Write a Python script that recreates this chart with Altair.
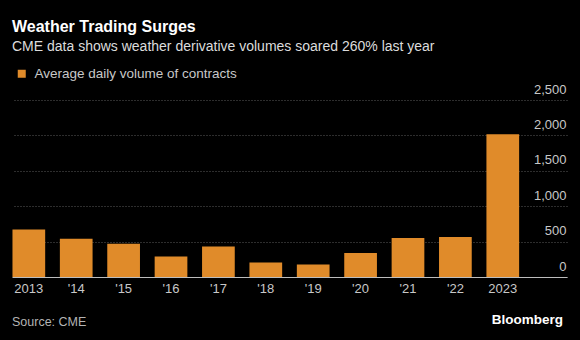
import altair as alt
import pandas as pd

years = ["2013", "'14", "'15", "'16", "'17", "'18", "'19", "'20", "'21", "'22", "2023"]
volumes = [670, 540, 470, 290, 430, 205, 178, 340, 550, 565, 2015]
series_name = "Average daily volume of contracts"
y_ticks = [0, 500, 1000, 1500, 2000, 2500]

title_text = "Weather Trading Surges"
subtitle_text = "CME data shows weather derivative volumes soared 260% last year"
source_text = "Source: CME"
brand_text = "Bloomberg"

ORANGE = "#e08b2a"
FONT = "Liberation Sans"

df = pd.DataFrame({"year": years, "volume": volumes, "series": series_name})

x_domain = years + [""]

bars = alt.Chart(df).mark_bar(color=ORANGE).encode(
    x=alt.X(
        "year:N",
        sort=None,
        scale=alt.Scale(domain=x_domain, paddingInner=0.31, paddingOuter=0.01),
        axis=alt.Axis(
            title=None,
            labelAngle=0,
            labelColor="#c8c8c8",
            labelFontSize=13,
            labelFont=FONT,
            labelPadding=5,
            ticks=False,
            domainColor="#bdbdbd",
            domainWidth=1.2,
            grid=False,
        ),
    ),
    y=alt.Y(
        "volume:Q",
        scale=alt.Scale(domain=[0, 2500], nice=False),
        axis=alt.Axis(
            title=None,
            orient="right",
            values=y_ticks,
            format=",d",
            labelAlign="right",
            labelBaseline="alphabetic",
            labelPadding=-1,
            labelOffset=-7,
            labelColor="#c8c8c8",
            labelFontSize=13,
            labelFont=FONT,
            ticks=False,
            domain=False,
            grid=True,
            gridColor="#5a5a5a",
            gridDash=[1, 2],
            gridWidth=1,
        ),
    ),
    color=alt.Color(
        "series:N",
        scale=alt.Scale(domain=[series_name], range=[ORANGE]),
        legend=alt.Legend(
            title=None,
            orient="none",
            legendX=3,
            legendY=-33,
            symbolType="square",
            symbolSize=64,
            symbolStrokeWidth=0,
            labelColor="#c8c8c8",
            labelFontSize=13.5,
            labelFont=FONT,
            labelOffset=6,
            labelLimit=400,
        ),
    ),
)

notes = pd.DataFrame({"source": [source_text], "brand": [brand_text]})

source = alt.Chart(notes).mark_text(
    align="left", baseline="middle", fontSize=12.5, font=FONT, color="#b4b4b4"
).encode(x=alt.value(0), y=alt.value(222), text="source:N")

brand = alt.Chart(notes).mark_text(
    align="right", baseline="middle", fontSize=13.5, font=FONT, fontWeight="bold", color="#ffffff"
).encode(x=alt.value(551), y=alt.value(220), text="brand:N")

chart = (
    alt.layer(bars, source, brand)
    .properties(
        width=555,
        height=177,
        background="#000000",
        padding={"left": 12, "top": 100, "right": 13, "bottom": 63},
        autosize=alt.AutoSizeParams(type="none"),
        title=alt.TitleParams(
            text=title_text,
            subtitle=subtitle_text,
            anchor="start",
            frame="group",
            offset=13,
            font=FONT,
            fontSize=16,
            fontWeight="bold",
            color="#ffffff",
            subtitleFont=FONT,
            subtitleFontSize=14,
            subtitleColor="#dcdcdc",
            subtitlePadding=5,
        ),
    )
    .configure_view(stroke=None)
)

chart.save("out.html", embed_options={"renderer": "svg", "actions": False})
